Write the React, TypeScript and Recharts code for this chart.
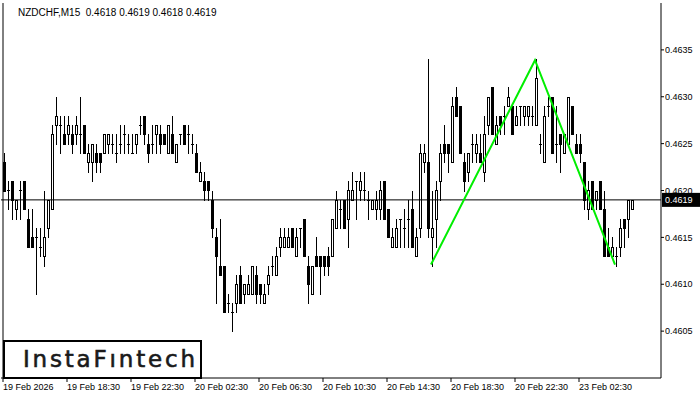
import React from 'react';
import { ComposedChart, Bar, Line, XAxis, YAxis, ReferenceLine } from 'recharts';

const opens = [
  0.4623, 0.4620, 0.4621, 0.4618, 0.4620, 0.4621, 0.4617, 0.4615, 0.4615, 0.4614,
  0.4613, 0.4616, 0.4618, 0.4627, 0.4627, 0.4626, 0.4626, 0.4626, 0.4626, 0.4626,
  0.4627, 0.4623, 0.4623, 0.4624, 0.4624, 0.4624, 0.4625, 0.4625, 0.4624, 0.4625,
  0.4626, 0.4625, 0.4624, 0.4625, 0.4627, 0.4628, 0.4625, 0.4625, 0.4626, 0.4626,
  0.4626, 0.4624, 0.4626, 0.4623, 0.4626, 0.4627, 0.4626, 0.4625, 0.4624, 0.4621,
  0.4621, 0.4621, 0.4619, 0.4615, 0.4612, 0.4612, 0.4608, 0.4607, 0.4608, 0.4611,
  0.4609, 0.4609, 0.4609, 0.4611, 0.4610, 0.4608, 0.4610, 0.4612, 0.4611, 0.4614,
  0.4614, 0.4614, 0.4616, 0.4613, 0.4616, 0.4617, 0.4612, 0.4609, 0.4613, 0.4613,
  0.4613, 0.4613, 0.4613, 0.4616, 0.4618, 0.4619, 0.4617, 0.4619, 0.4621, 0.4620,
  0.4620, 0.4619, 0.4618, 0.4618, 0.4618, 0.4621, 0.4618, 0.4614, 0.4614, 0.4617,
  0.4616, 0.4617, 0.4618, 0.4613, 0.4616, 0.4623, 0.4623, 0.4615, 0.4617, 0.4621,
  0.4625, 0.4625, 0.4623, 0.4630, 0.4629, 0.4623, 0.4622, 0.4625, 0.4624, 0.4624,
  0.4622, 0.4627, 0.4631, 0.4625, 0.4628, 0.4628, 0.4629, 0.4629, 0.4627, 0.4629,
  0.4628, 0.4628, 0.4628, 0.4627, 0.4625, 0.4623, 0.4629, 0.4630, 0.4625, 0.4626,
  0.4624, 0.4625, 0.4629, 0.4625, 0.4625, 0.4623, 0.4618, 0.4621, 0.4619, 0.4621,
  0.4618, 0.4614, 0.4613, 0.4613, 0.4614, 0.4617, 0.4617, 0.4618,
];

const highs = [
  0.4624, 0.4621, 0.4621, 0.4619, 0.4621, 0.4621, 0.4618, 0.4618, 0.4616, 0.4616,
  0.4620, 0.4619, 0.4627, 0.4630, 0.4628, 0.4628, 0.4628, 0.4627, 0.4628, 0.4630,
  0.4627, 0.4625, 0.4625, 0.4625, 0.4624, 0.4626, 0.4626, 0.4626, 0.4626, 0.4627,
  0.4627, 0.4626, 0.4626, 0.4626, 0.4628, 0.4628, 0.4626, 0.4627, 0.4627, 0.4627,
  0.4626, 0.4627, 0.4628, 0.4625, 0.4626, 0.4627, 0.4627, 0.4626, 0.4625, 0.4623,
  0.4622, 0.4621, 0.4620, 0.4616, 0.4617, 0.4612, 0.4609, 0.4608, 0.4611, 0.4612,
  0.4610, 0.4611, 0.4612, 0.4612, 0.4610, 0.4610, 0.4612, 0.4613, 0.4614, 0.4616,
  0.4616, 0.4616, 0.4616, 0.4616, 0.4616, 0.4617, 0.4613, 0.4612, 0.4615, 0.4613,
  0.4613, 0.4614, 0.4617, 0.4620, 0.4619, 0.4619, 0.4621, 0.4622, 0.4621, 0.4622,
  0.4622, 0.4620, 0.4619, 0.4620, 0.4621, 0.4621, 0.4618, 0.4616, 0.4617, 0.4617,
  0.4618, 0.4619, 0.4620, 0.4616, 0.4625, 0.4625, 0.4634, 0.4620, 0.4621, 0.4625,
  0.4627, 0.4625, 0.4630, 0.4631, 0.4629, 0.4624, 0.4624, 0.4626, 0.4626, 0.4626,
  0.4628, 0.4630, 0.4631, 0.4628, 0.4628, 0.4629, 0.4631, 0.4629, 0.4629, 0.4629,
  0.4629, 0.4629, 0.4629, 0.4634, 0.4626, 0.4629, 0.4630, 0.4630, 0.4629, 0.4626,
  0.4626, 0.4630, 0.4629, 0.4626, 0.4626, 0.4623, 0.4621, 0.4621, 0.4620, 0.4621,
  0.4620, 0.4616, 0.4615, 0.4614, 0.4617, 0.4617, 0.4619, 0.4619,
];

const lows = [
  0.4620, 0.4618, 0.4617, 0.4617, 0.4617, 0.4618, 0.4614, 0.4614, 0.4609, 0.4613,
  0.4612, 0.4615, 0.4618, 0.4625, 0.4624, 0.4625, 0.4625, 0.4624, 0.4625, 0.4624,
  0.4624, 0.4622, 0.4621, 0.4622, 0.4622, 0.4624, 0.4624, 0.4624, 0.4623, 0.4624,
  0.4624, 0.4624, 0.4624, 0.4624, 0.4626, 0.4625, 0.4623, 0.4624, 0.4624, 0.4624,
  0.4625, 0.4624, 0.4624, 0.4623, 0.4625, 0.4625, 0.4624, 0.4624, 0.4622, 0.4621,
  0.4619, 0.4619, 0.4615, 0.4608, 0.4611, 0.4607, 0.4607, 0.4605, 0.4607, 0.4608,
  0.4608, 0.4609, 0.4609, 0.4608, 0.4608, 0.4608, 0.4609, 0.4611, 0.4611, 0.4613,
  0.4614, 0.4614, 0.4614, 0.4613, 0.4614, 0.4613, 0.4608, 0.4609, 0.4612, 0.4609,
  0.4611, 0.4611, 0.4613, 0.4616, 0.4616, 0.4616, 0.4614, 0.4619, 0.4617, 0.4619,
  0.4619, 0.4617, 0.4618, 0.4617, 0.4617, 0.4617, 0.4615, 0.4614, 0.4614, 0.4614,
  0.4614, 0.4614, 0.4614, 0.4613, 0.4615, 0.4622, 0.4615, 0.4612, 0.4614, 0.4619,
  0.4623, 0.4622, 0.4623, 0.4628, 0.4624, 0.4620, 0.4621, 0.4623, 0.4623, 0.4623,
  0.4621, 0.4626, 0.4626, 0.4625, 0.4626, 0.4626, 0.4629, 0.4626, 0.4627, 0.4627,
  0.4627, 0.4627, 0.4627, 0.4627, 0.4624, 0.4623, 0.4628, 0.4624, 0.4623, 0.4622,
  0.4624, 0.4625, 0.4626, 0.4624, 0.4623, 0.4618, 0.4617, 0.4618, 0.4618, 0.4618,
  0.4613, 0.4613, 0.4613, 0.4612, 0.4613, 0.4614, 0.4615, 0.4618,
];

const closes = [
  0.4620, 0.4620, 0.4619, 0.4619, 0.4620, 0.4618, 0.4614, 0.4614, 0.4615, 0.4614,
  0.4615, 0.4619, 0.4626, 0.4628, 0.4627, 0.4625, 0.4627, 0.4625, 0.4627, 0.4626,
  0.4624, 0.4624, 0.4625, 0.4623, 0.4623, 0.4626, 0.4626, 0.4625, 0.4624, 0.4625,
  0.4626, 0.4625, 0.4624, 0.4626, 0.4627, 0.4626, 0.4624, 0.4625, 0.4627, 0.4625,
  0.4625, 0.4627, 0.4624, 0.4625, 0.4626, 0.4625, 0.4626, 0.4625, 0.4622, 0.4622,
  0.4620, 0.4620, 0.4616, 0.4613, 0.4611, 0.4607, 0.4608, 0.4607, 0.4610, 0.4608,
  0.4610, 0.4610, 0.4612, 0.4609, 0.4609, 0.4609, 0.4611, 0.4612, 0.4613, 0.4615,
  0.4615, 0.4615, 0.4614, 0.4615, 0.4616, 0.4613, 0.4610, 0.4612, 0.4612, 0.4612,
  0.4612, 0.4612, 0.4617, 0.4619, 0.4618, 0.4616, 0.4620, 0.4620, 0.4621, 0.4621,
  0.4620, 0.4619, 0.4619, 0.4619, 0.4620, 0.4617, 0.4615, 0.4615, 0.4616, 0.4617,
  0.4616, 0.4617, 0.4614, 0.4615, 0.4624, 0.4624, 0.4616, 0.4616, 0.4620, 0.4624,
  0.4624, 0.4624, 0.4629, 0.4628, 0.4624, 0.4621, 0.4624, 0.4625, 0.4625, 0.4623,
  0.4626, 0.4630, 0.4626, 0.4627, 0.4627, 0.4628, 0.4630, 0.4626, 0.4628, 0.4629,
  0.4629, 0.4629, 0.4628, 0.4632, 0.4625, 0.4628, 0.4629, 0.4624, 0.4625, 0.4625,
  0.4626, 0.4630, 0.4626, 0.4624, 0.4624, 0.4619, 0.4620, 0.4618, 0.4620, 0.4618,
  0.4613, 0.4613, 0.4614, 0.4613, 0.4616, 0.4616, 0.4619, 0.4619,
];

const slotCount = 165;
const xTickIndex = [0, 16, 32, 48, 64, 80, 96, 112, 128, 144];
const xTickLabels = [
  '19 Feb 2026', '19 Feb 18:30', '19 Feb 22:30', '20 Feb 02:30', '20 Feb 06:30',
  '20 Feb 10:30', '20 Feb 14:30', '20 Feb 18:30', '20 Feb 22:30', '23 Feb 02:30',
];
const yTicks = [0.4605, 0.461, 0.4615, 0.462, 0.4625, 0.463, 0.4635];
const patternIndex = [107, 133, 153];
const patternPrice = [0.46121, 0.46339, 0.46121];
const lastPrice = 0.4619;
const titleText = 'NZDCHF,M15  0.4618 0.4619 0.4618 0.4619';
const logoText = 'InstaF\u0131ntech';

const AXIS_FONT = 'Liberation Sans, Arial, sans-serif';

const data = Array.from({ length: slotCount }, (_, i) => {
  const has = i < opens.length;
  const pi = patternIndex.indexOf(i);
  return {
    i,
    open: has ? opens[i] : null,
    high: has ? highs[i] : null,
    low: has ? lows[i] : null,
    close: has ? closes[i] : null,
    range: has ? [lows[i], highs[i]] : null,
    pattern: pi >= 0 ? patternPrice[pi] : null,
  };
});

const Candle = (props: any) => {
  const { x, y, width, height, payload } = props;
  if (!payload || payload.high == null || x == null || y == null) return null;
  const { open, close, high, low } = payload;
  const top = Math.min(y, y + height);
  const bottom = Math.max(y, y + height);
  const span = high - low;
  const toY = (v: number) => (span > 0 ? top + ((high - v) / span) * (bottom - top) : top);
  const cx = Math.round(x + width / 2);
  const yH = Math.round(top);
  const yL = Math.round(bottom);
  const yO = Math.round(toY(open));
  const yC = Math.round(toY(close));
  const bTop = Math.min(yO, yC);
  const bBot = Math.max(yO, yC);
  return (
    <g>
      <line x1={cx + 0.5} x2={cx + 0.5} y1={yH} y2={yL + 1} stroke="#000" strokeWidth={1} />
      {close > open && (
        <rect x={cx - 0.5} y={bTop + 0.5} width={2} height={bBot - bTop} fill="#fff" stroke="#000" strokeWidth={1} />
      )}
      {close < open && (
        <rect x={cx - 1} y={bTop} width={3} height={bBot - bTop + 1} fill="#000" />
      )}
      {close === open && (
        <line x1={cx - 1} x2={cx + 2} y1={yO + 0.5} y2={yO + 0.5} stroke="#000" strokeWidth={1} />
      )}
    </g>
  );
};

const XTick = (props: any) => {
  const { x, y, payload } = props;
  const idx = xTickIndex.indexOf(payload.value);
  if (idx < 0) return null;
  return (
    <text x={x} y={y} dy="0.71em" textAnchor="start" fontFamily={AXIS_FONT} fontSize={9} fill="#000">
      {xTickLabels[idx]}
    </text>
  );
};

const PriceTag = (props: any) => {
  const vb = props.viewBox || {};
  const yy = vb.y ?? 0;
  const xx = (vb.x ?? 0) + (vb.width ?? 0);
  return (
    <g>
      <rect x={xx + 1} y={yy - 7} width={40} height={14} fill="#000" />
      <text x={xx + 4} y={yy} dy="0.355em" fontFamily={AXIS_FONT} fontSize={9} fill="#fff">
        {lastPrice.toFixed(4)}
      </text>
    </g>
  );
};

export default function App() {
  return (
    <div style={{ position: 'absolute', left: 0, top: 0, width: 700, height: 400, background: '#fff' }}>
      <ComposedChart width={700} height={400} data={data} margin={{ top: 3, right: 0, bottom: 0, left: 1 }}>
        <XAxis
          dataKey="i"
          type="category"
          ticks={xTickIndex}
          interval={0}
          height={22}
          tickSize={4}
          tickMargin={2}
          tick={<XTick />}
          axisLine={{ stroke: '#000' }}
          tickLine={{ stroke: '#000' }}
        />
        <YAxis
          orientation="right"
          type="number"
          domain={[0.46, 0.464]}
          allowDataOverflow
          ticks={yTicks}
          width={39}
          tickSize={3}
          tickMargin={1}
          tickFormatter={(v: number) => v.toFixed(4)}
          tick={{ fontSize: 9, fill: '#000', fontFamily: AXIS_FONT }}
          axisLine={{ stroke: '#000' }}
          tickLine={{ stroke: '#000' }}
        />
        <ReferenceLine x={0} stroke="#000" strokeWidth={1} />
        <ReferenceLine y={lastPrice} stroke="#000" strokeWidth={1} label={<PriceTag />} />
        <Bar dataKey="range" barSize={3} shape={<Candle />} isAnimationActive={false} />
        <Line
          dataKey="pattern"
          connectNulls
          dot={false}
          activeDot={false}
          stroke="#00ee00"
          strokeWidth={2}
          isAnimationActive={false}
        />
      </ComposedChart>
      <svg width={700} height={400} style={{ position: 'absolute', left: 0, top: 0, pointerEvents: 'none' }}>
        <text x={18} y={16} fontFamily={AXIS_FONT} fontSize={10} fill="#000" style={{ whiteSpace: 'pre' }}>
          {titleText}
        </text>
        <rect x={4} y={341} width={197} height={37} fill="#fff" stroke="#000" strokeWidth={2} />
        <text x={23} y={367} fontFamily="DejaVu Sans, sans-serif" fontSize={23} fill="#1a1a1a" stroke="#1a1a1a" strokeWidth={0.6} textLength={172} lengthAdjust="spacing">
          {logoText}
        </text>
      </svg>
    </div>
  );
}
